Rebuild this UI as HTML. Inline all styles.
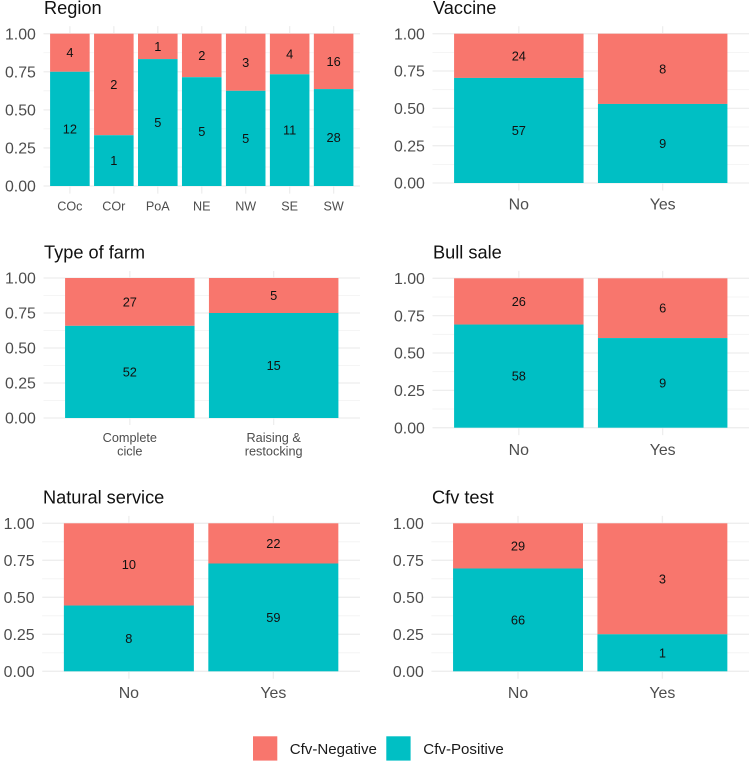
<!DOCTYPE html>
<html lang="en">
<head>
<meta charset="utf-8">
<title>Cfv proportions by category</title>
<style>
html,body{margin:0;padding:0;background:#fff;}
svg{display:block;font-family:"Liberation Sans",Arial,sans-serif;}
.title{font-size:18.2px;fill:#111;}
.legend-text{font-size:15.1px;fill:#1a1a1a;}
</style>
</head>
<body>
<svg id="chart" xmlns="http://www.w3.org/2000/svg" width="749" height="762" viewBox="0 0 749 762">
  <rect x="0" y="0" width="749" height="762" fill="#ffffff"/>
  <text class="title" x="44" y="14">Region</text>
  <text class="title" x="433" y="14">Vaccine</text>
  <text class="title" x="44" y="258.5">Type of farm</text>
  <text class="title" x="433" y="258.5">Bull sale</text>
  <text class="title" x="43" y="503.5">Natural service</text>
  <text class="title" x="432" y="503.5">Cfv test</text>
  <g>
    <rect x="253" y="736.3" width="24.3" height="24.3" fill="#F8766D"/>
    <text class="legend-text" x="289.7" y="754">Cfv-Negative</text>
    <rect x="386.3" y="736.3" width="24.3" height="24.3" fill="#00BFC4"/>
    <text class="legend-text" x="423.3" y="754">Cfv-Positive</text>
  </g>
</svg>
<script>
// ---- chart data ----
const regionCategories = ["COc", "COr", "PoA", "NE", "NW", "SE", "SW"];
const regionPositive = [12, 1, 5, 5, 5, 11, 28];
const regionNegative = [4, 2, 1, 2, 3, 4, 16];

const vaccineCategories = ["No", "Yes"];
const vaccinePositive = [57, 9];
const vaccineNegative = [24, 8];

const farmCategories = ["Complete\ncicle", "Raising &\nrestocking"];
const farmPositive = [52, 15];
const farmNegative = [27, 5];

const bullCategories = ["No", "Yes"];
const bullPositive = [58, 9];
const bullNegative = [26, 6];

const serviceCategories = ["No", "Yes"];
const servicePositive = [8, 59];
const serviceNegative = [10, 22];

const testCategories = ["No", "Yes"];
const testPositive = [66, 1];
const testNegative = [29, 3];

const majorTicks = [0, 0.25, 0.5, 0.75, 1];
const majorTickLabels = ["0.00", "0.25", "0.50", "0.75", "1.00"];
const minorTicks = [0.125, 0.375, 0.625, 0.875];

// ---- drawing ----
const SVG_NS = "http://www.w3.org/2000/svg";
const chart = document.getElementById("chart");
const POSITIVE_COLOR = "#00BFC4";
const NEGATIVE_COLOR = "#F8766D";

function make(tag, parent, attrs, text) {
  const el = document.createElementNS(SVG_NS, tag);
  for (const key in attrs) el.setAttribute(key, attrs[key]);
  if (text !== undefined) el.textContent = text;
  parent.appendChild(el);
  return el;
}

function drawPanel(panel) {
  const group = make("g", chart, {});
  
  

  const n = panel.categories.length;
  const step = (panel.right - panel.left) / (n + 0.2);
  const barWidth = step * 0.9;
  const xCenter = function (i) { return panel.left + step * (0.6 + i); };
  const yScale = function (v) { return panel.y0 - v * (panel.y0 - panel.y1); };
  const pad = (panel.y0 - panel.y1) * 0.05;

  minorTicks.forEach(function (t) {
    const line = make("line", group, {x1: panel.left, x2: panel.right, y1: yScale(t), y2: yScale(t), stroke: "#f2f2f2", "stroke-width": 0.8});
    
    
  });
  majorTicks.forEach(function (t, i) {
    const line = make("line", group, {x1: panel.left, x2: panel.right, y1: yScale(t), y2: yScale(t), stroke: "#eeeeee", "stroke-width": 1.3});
    
    
    const label = make("text", group, {x: panel.left - 7.6, y: yScale(t) + 5.6, "text-anchor": "end", "font-size": 15.9, fill: "#4d4d4d"}, majorTickLabels[i]);
    
    
  });

  panel.categories.forEach(function (cat, i) {
    const cx = xCenter(i);
    const grid = make("line", group, {x1: cx, x2: cx, y1: panel.y1 - pad, y2: panel.y0 + pad, stroke: "#eeeeee", "stroke-width": 1.3});
    
    

    const pos = panel.positive[i];
    const neg = panel.negative[i];
    const share = pos / (pos + neg);

    const negBar = make("rect", group, {x: cx - barWidth / 2, width: barWidth, y: yScale(1), height: yScale(share) - yScale(1), fill: NEGATIVE_COLOR});
    
    

    const posBar = make("rect", group, {x: cx - barWidth / 2, width: barWidth, y: yScale(share), height: yScale(0) - yScale(share), fill: POSITIVE_COLOR});
    
    

    const negLabel = make("text", group, {x: cx, y: yScale((1 + share) / 2) + 4.5, "text-anchor": "middle", "font-size": 12.8, fill: "#111"}, String(neg));
    
    

    const posLabel = make("text", group, {x: cx, y: yScale(share / 2) + 4.5, "text-anchor": "middle", "font-size": 12.8, fill: "#111"}, String(pos));
    
    

    const tick = make("text", group, {x: cx, y: panel.labelY, "text-anchor": "middle", "font-size": panel.labelSize, fill: "#4d4d4d"});
    
    
    cat.split("\n").forEach(function (part, lineIndex) {
      make("tspan", tick, {x: cx, dy: lineIndex === 0 ? 0 : 13.7}, part);
    });
  });
}

drawPanel({name: "region", categories: regionCategories, positive: regionPositive, negative: regionNegative, left: 43.5, right: 360, y0: 186, y1: 33.7, labelY: 210.5, labelSize: 12.6});
drawPanel({name: "vaccine", categories: vaccineCategories, positive: vaccinePositive, negative: vaccineNegative, left: 432.5, right: 749, y0: 183, y1: 33.7, labelY: 209.5, labelSize: 15.9});
drawPanel({name: "type-of-farm", categories: farmCategories, positive: farmPositive, negative: farmNegative, left: 43.5, right: 360, y0: 418, y1: 278, labelY: 442, labelSize: 12.7});
drawPanel({name: "bull-sale", categories: bullCategories, positive: bullPositive, negative: bullNegative, left: 432.5, right: 749, y0: 427.7, y1: 278.3, labelY: 455, labelSize: 15.9});
drawPanel({name: "natural-service", categories: serviceCategories, positive: servicePositive, negative: serviceNegative, left: 42.2, right: 360, y0: 671.3, y1: 523.3, labelY: 698, labelSize: 15.9});
drawPanel({name: "cfv-test", categories: testCategories, positive: testPositive, negative: testNegative, left: 431.4, right: 749, y0: 671.3, y1: 523.3, labelY: 698, labelSize: 15.9});
</script>
</body>
</html>
